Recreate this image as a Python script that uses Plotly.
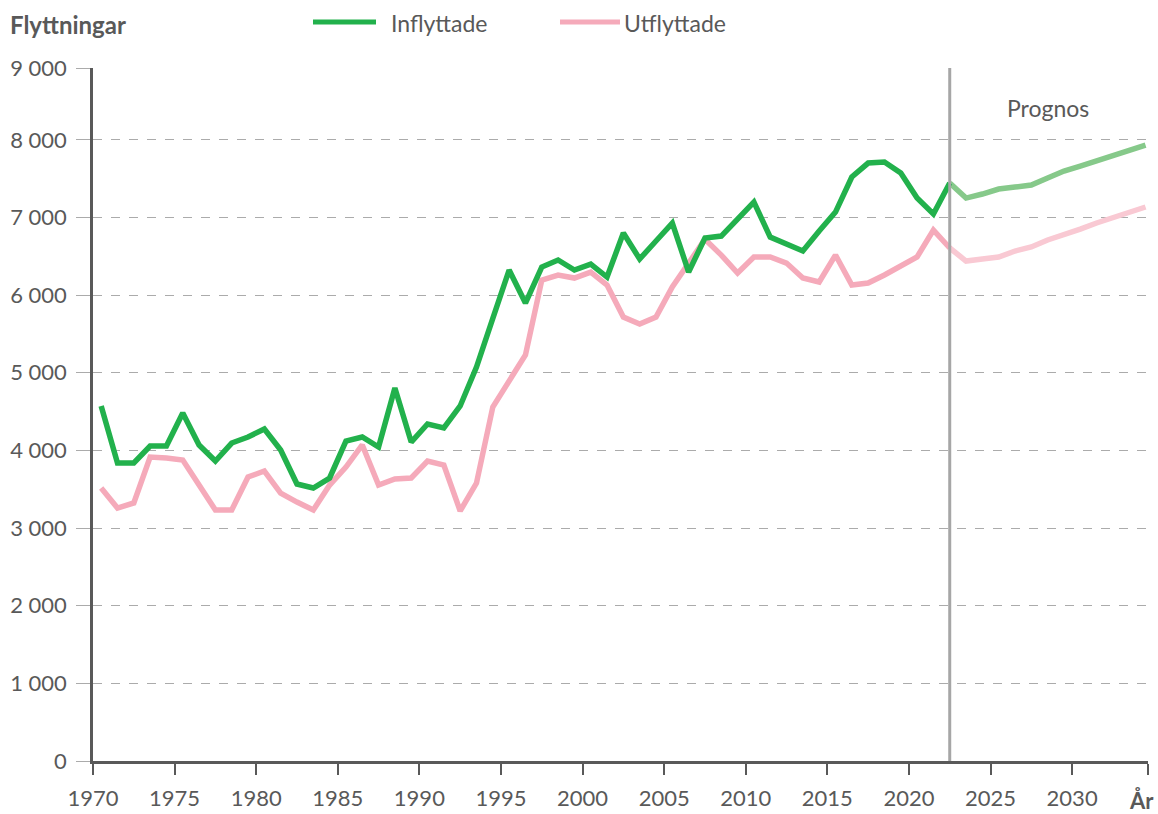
import plotly.graph_objects as go

years = list(range(1970, 2035))
inflyttade = [4572, 3838, 3838, 4057, 4057, 4482, 4070, 3863, 4095, 4173,
              4276, 4005, 3567, 3516, 3645, 4121, 4173, 4044, 4804, 4108,
              4340, 4289, 4572, 5074, 5700, 6323, 5898, 6362, 6452, 6323,
              6400, 6233, 6800, 6465, 6697, 6928, 6297, 6735, 6761, 6980,
              7199, 6748, 6658, 6568, 6826, 7070, 7521, 7701, 7714, 7572,
              7250, 7044, 7444,
              7250, 7302, 7366, 7392, 7418, 7508, 7598, 7662, 7727, 7804, 7869, 7933]
utflyttade = [3516, 3258, 3323, 3915, 3902, 3876, 3554, 3232, 3232, 3657,
              3735, 3451, 3335, 3232, 3554, 3786, 4070, 3554, 3632, 3645,
              3863, 3812, 3220, 3580, 4559, 4881, 5229, 6194, 6259, 6220,
              6297, 6130, 5718, 5628, 5718, 6104, 6426, 6720, 6516, 6285,
              6491, 6491, 6413, 6220, 6169, 6516, 6130, 6156, 6259, 6375,
              6491, 6838, 6607,
              6439, 6465, 6491, 6568, 6620, 6710, 6774, 6851, 6929, 6993, 7070, 7135]
last_actual_year = 2022
x_tick_years = list(range(1970, 2031, 5))
y_tick_vals = list(range(0, 9000, 1000))

GREEN = "#22B14C"
GREEN_LIGHT = "#86C98A"
PINK = "#F5AABA"
PINK_LIGHT = "#F9C9D3"
TXT = "#595959"
FONT = "Lato"

cut = years.index(last_actual_year) + 1
fig = go.Figure()
fig.add_trace(go.Scatter(x=years[cut - 1:], y=inflyttade[cut - 1:], mode="lines",
                         line=dict(color=GREEN_LIGHT, width=5.5), name="Inflyttade prognos",
                         showlegend=False))
fig.add_trace(go.Scatter(x=years[cut - 1:], y=utflyttade[cut - 1:], mode="lines",
                         line=dict(color=PINK_LIGHT, width=5.5), name="Utflyttade prognos",
                         showlegend=False))
fig.add_trace(go.Scatter(x=years[:cut], y=utflyttade[:cut], mode="lines",
                         line=dict(color=PINK, width=5.5), name="Utflyttade", showlegend=False))
fig.add_trace(go.Scatter(x=years[:cut], y=inflyttade[:cut], mode="lines",
                         line=dict(color=GREEN, width=5.5), name="Inflyttade", showlegend=False))

x0 = 1969.5
x1 = 2034.15
ymax = 8925

fig.add_shape(type="line", xref="x", yref="paper", x0=last_actual_year, x1=last_actual_year,
              y0=0, y1=1, line=dict(color="#A6A6A6", width=3))

# pixel helpers (plot area spans x 93..1148, y 68..761)
def px_x(p):
    return (p - 93) / 1055

def px_y(p):
    return (761 - p) / 693

for (a, b, col, label, tx) in [(313, 376, GREEN, "Inflyttade", 389), (560, 620, PINK, "Utflyttade", 622)]:
    fig.add_shape(type="line", xref="paper", yref="paper", x0=px_x(a), x1=px_x(b),
                  y0=px_y(22), y1=px_y(22), line=dict(color=col, width=5))
    fig.add_annotation(xref="paper", yref="paper", x=px_x(tx), y=px_y(23), text=label,
                       showarrow=False, xanchor="left", yanchor="middle",
                       font=dict(family=FONT, size=23, color=TXT))

fig.add_annotation(xref="paper", yref="paper", x=px_x(8), y=px_y(24), text="<b>Flyttningar</b>",
                   showarrow=False, xanchor="left", yanchor="middle",
                   font=dict(family=FONT, size=24, color=TXT))
fig.add_annotation(xref="x", yref="y", x=2028, y=8410, text="Prognos", showarrow=False,
                   xanchor="center", yanchor="middle", font=dict(family=FONT, size=23, color=TXT))
# axis title "År" at the end of the x axis
fig.add_annotation(xref="paper", yref="paper", x=px_x(1156), y=px_y(800), text="<b>År</b>",
                   showarrow=False, xanchor="right", yanchor="middle",
                   font=dict(family=FONT, size=22, color=TXT))

fig.update_layout(
    width=1158, height=814,
    margin=dict(l=93, r=10, t=68, b=53),
    paper_bgcolor="white", plot_bgcolor="white",
    showlegend=False,
    font=dict(family=FONT, size=20, color=TXT),
)
fig.update_xaxes(
    range=[x0, x1], automargin=False,
    tickvals=[y - 0.5 for y in x_tick_years] + [x1 - 0.01],
    ticktext=[str(y) for y in x_tick_years] + [""],
    ticklabeloverflow="allow",
    showgrid=False, zeroline=False,
    showline=True, linecolor=TXT, linewidth=3,
    ticks="outside", ticklen=11, tickwidth=1.5, tickcolor=TXT,
    tickfont=dict(family=FONT, size=22, color=TXT),
    ticklabelstandoff=5,
)
fig.update_yaxes(
    range=[0, ymax], automargin=False,
    tickvals=y_tick_vals + [ymax],
    ticktext=[f"{v:,}".replace(",", " ") for v in y_tick_vals] + ["9 000"],
    ticklabeloverflow="allow",
    showgrid=True, gridcolor="#ABABAB", griddash="dash", gridwidth=1,
    zeroline=False,
    showline=True, linecolor=TXT, linewidth=2.5,
    ticks="outside", ticklen=14, tickwidth=1, tickcolor="#ABABAB",
    tickfont=dict(family=FONT, size=22, color=TXT),
    ticklabelstandoff=5,
)

# remove the browser's default 8px body margin so the figure fills the window exactly
fig.write_html("out.html", config={"displayModeBar": False},
               post_script="document.body.style.margin='0px';")
